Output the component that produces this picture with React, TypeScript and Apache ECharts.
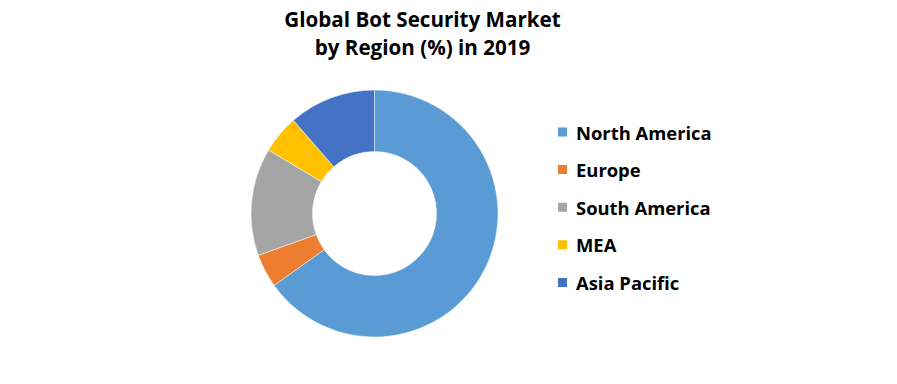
import React, { useEffect, useRef } from "react";
import * as echarts from "echarts";

const categories = ["North America", "Europe", "South America", "MEA", "Asia Pacific"];
const shares = [65.1, 4.4, 14.1, 5.0, 11.4];
const colors = ["#5B9BD5", "#ED7D31", "#A5A5A5", "#FFC000", "#4472C4"];
const titleText = "Global Bot Security Market\nby Region (%) in 2019";

export default function App() {
  const ref = useRef<HTMLDivElement>(null);
  useEffect(() => {
    document.body.style.margin = "0";
    const chart = echarts.init(ref.current!, undefined, { renderer: "svg" });
    chart.setOption({
      animation: false,
      backgroundColor: "#ffffff",
      title: {
        text: titleText,
        left: 422.5,
        top: 4.5,
        padding: 0,
        textAlign: "center",
        textStyle: {
          fontFamily: "Open Sans",
          fontSize: 20.6,
          fontWeight: "bold",
          lineHeight: 28.5,
          color: "#000000",
        },
      },
      legend: {
        orient: "vertical",
        left: 556,
        top: 121,
        padding: 0,
        itemWidth: 11,
        itemHeight: 11,
        itemGap: 15.6,
        icon: "rect",
        data: categories,
        textStyle: {
          fontFamily: "Open Sans",
          fontSize: 18.4,
          fontWeight: "bold",
          color: "#000000",
          lineHeight: 22,
          padding: [0, 0, 0, 3],
        },
      },
      series: [
        {
          type: "pie",
          center: [374.5, 213.5],
          radius: [62, 123.5],
          startAngle: 90,
          clockwise: true,
          label: { show: false },
          labelLine: { show: false },
          emphasis: { disabled: true },
          itemStyle: { borderColor: "#ffffff", borderWidth: 0.5 },
          data: categories.map((name, i) => ({
            name,
            value: shares[i],
            itemStyle: { color: colors[i] },
          })),
        },
      ],
    });
    return () => chart.dispose();
  }, []);
  return <div ref={ref} style={{ width: 897, height: 384 }} />;
}
